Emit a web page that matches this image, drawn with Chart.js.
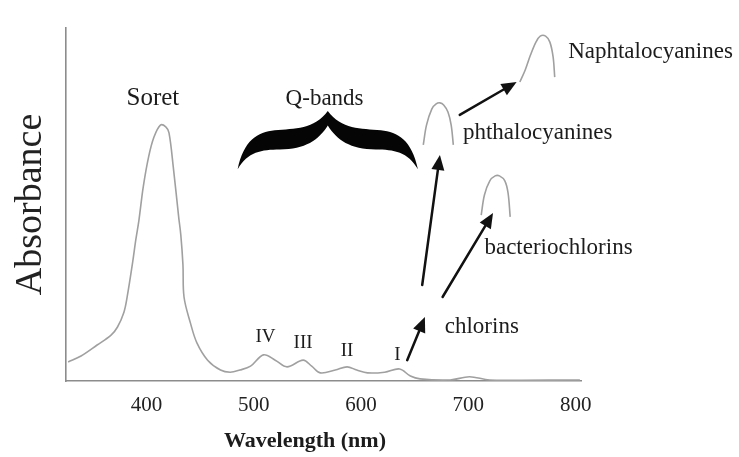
<!DOCTYPE html>
<html><head><meta charset="utf-8">
<script src="https://cdn.jsdelivr.net/npm/chart.js@4.4.1/dist/chart.umd.min.js"></script>
<style>html,body{margin:0;padding:0;background:#fff;} #wrap{width:739px;height:457px;}</style>
</head><body><div id="wrap"><canvas id="c" width="739" height="457"></canvas></div>
<script>
// ---- data (wavelength in nm, absorbance in arbitrary units) ----
const xTickValues = [400, 500, 600, 700, 800];

const spectrumWavelength = [327, 339, 354, 367, 373, 379, 382, 387, 390, 393, 397, 402, 407, 413, 418, 421, 425, 430, 432, 434, 435, 441, 447, 457, 469, 478,
  487, 497, 509, 520, 531, 546, 554, 562, 576, 587, 596, 606, 622, 636, 646, 655, 683, 701, 720, 804];
const spectrumAbsorbance = [0.054, 0.071, 0.102, 0.130, 0.153, 0.195, 0.238, 0.334, 0.399, 0.456, 0.550, 0.635, 0.691, 0.725, 0.720, 0.703, 0.606, 0.465, 0.414, 0.329, 0.238, 0.164, 0.108, 0.059, 0.031, 0.025,
  0.031, 0.042, 0.074, 0.059, 0.040, 0.059, 0.042, 0.023, 0.031, 0.040, 0.031, 0.023, 0.025, 0.034, 0.014, 0.006, 0.003, 0.012, 0.003, 0.003];

const phthaloWavelength = [658, 661, 666, 670, 673.5, 677, 681, 684, 686];
const phthaloAbsorbance = [0.669, 0.725, 0.771, 0.785, 0.788, 0.782, 0.762, 0.725, 0.669];

const bacterioWavelength = [712, 715, 720, 725, 729, 734, 737, 739];
const bacterioAbsorbance = [0.470, 0.527, 0.567, 0.581, 0.581, 0.567, 0.533, 0.465];

const naphthaloWavelength = [748, 753, 758, 763, 767, 772, 776, 779, 780.5];
const naphthaloAbsorbance = [0.847, 0.881, 0.924, 0.960, 0.977, 0.977, 0.960, 0.918, 0.861];

const labelTexts = ['Soret', 'Q-bands', 'IV', 'III', 'II', 'I', 'chlorins', 'phthalocyanines', 'bacteriochlorins', 'Naphtalocyanines'];
const labelWavelength = [406, 566, 511, 546, 587, 634, 678, 695, 715, 793];
const labelAbsorbance = [0.800, 0.800, 0.125, 0.108, 0.085, 0.074, 0.153, 0.703, 0.377, 0.932];

const arrowFromWavelength = [643, 657, 676, 692];
const arrowFromAbsorbance = [0.059, 0.272, 0.238, 0.754];
const arrowToWavelength = [659.5, 673.5, 723, 745];
const arrowToAbsorbance = [0.181, 0.640, 0.476, 0.847];

const braceWavelength = [485, 569, 653];   // left end, cusp, right end
const braceAbsorbance = [0.600, 0.765];    // end level, cusp level

const SERIF = '"Liberation Serif", "DejaVu Serif", serif';
const toPts = (xs, ys) => xs.map((v, i) => ({ x: v, y: ys[i] }));

const annot = {
  id: 'annot',
  afterDraw(chart) {
    const { ctx, scales: { x, y } } = chart;
    const px = v => x.getPixelForValue(v), py = v => y.getPixelForValue(v);
    ctx.save();
    // curly brace
    const L = px(braceWavelength[0]), C = px(braceWavelength[1]), R = px(braceWavelength[2]);
    const yE = py(braceAbsorbance[0]), yT = py(braceAbsorbance[1]), h = yE - yT;
    const P = (u, v) => [L + u * (C - L), yT + v * h];
    const Q = (u, v) => [R - u * (R - C), yT + v * h];
    const bz = (a, b, c) => ctx.bezierCurveTo(a[0], a[1], b[0], b[1], c[0], c[1]);
    ctx.fillStyle = '#050505';
    ctx.beginPath();
    let s = P(0, 1); ctx.moveTo(s[0], s[1]);
    bz(P(0.067, 0.5), P(0.222, 0.36), P(0.411, 0.33));
    bz(P(0.633, 0.30), P(0.85, 0.32), P(1, 0));
    bz(Q(0.85, 0.32), Q(0.633, 0.30), Q(0.411, 0.33));
    bz(Q(0.222, 0.36), Q(0.067, 0.5), Q(0, 1));
    bz(Q(0.111, 0.70), Q(0.267, 0.66), Q(0.467, 0.66));
    bz(Q(0.75, 0.66), Q(0.9, 0.5), Q(1, 0.25));
    bz(P(0.9, 0.5), P(0.75, 0.66), P(0.467, 0.66));
    bz(P(0.267, 0.66), P(0.111, 0.70), P(0, 1));
    ctx.closePath();
    ctx.fill();
    // arrows
    ctx.strokeStyle = '#111'; ctx.fillStyle = '#111'; ctx.lineWidth = 2.5; ctx.lineCap = 'round';
    arrowFromWavelength.forEach((_, i) => {
      const x0 = px(arrowFromWavelength[i]), y0 = py(arrowFromAbsorbance[i]);
      const x1 = px(arrowToWavelength[i]), y1 = py(arrowToAbsorbance[i]);
      const a = Math.atan2(y1 - y0, x1 - x0), hl = 15, hw = 6.5;
      const bx = x1 - hl * Math.cos(a), by = y1 - hl * Math.sin(a);
      ctx.beginPath(); ctx.moveTo(x0, y0); ctx.lineTo(bx, by); ctx.stroke();
      ctx.beginPath(); ctx.moveTo(x1, y1);
      ctx.lineTo(bx + hw * Math.sin(a), by - hw * Math.cos(a));
      ctx.lineTo(bx - hw * Math.sin(a), by + hw * Math.cos(a));
      ctx.closePath(); ctx.fill();
    });
    // labels
    ctx.fillStyle = '#1c1c1c'; ctx.textBaseline = 'middle';
    labelTexts.forEach((t, i) => {
      let size = 23, align = 'left';
      if (i === 0) { size = 25; align = 'center'; }
      else if (i === 1) { align = 'center'; }
      else if (i <= 5) { size = 19; align = 'center'; }
      ctx.font = size + 'px ' + SERIF;
      ctx.textAlign = align;
      ctx.fillText(t, px(labelWavelength[i]), py(labelAbsorbance[i]));
    });
    // x axis title
    ctx.font = 'bold 22px ' + SERIF; ctx.textAlign = 'center';
    ctx.fillText('Wavelength (nm)', 305, 441);
    ctx.restore();
  }
};

const lineStyle = { borderColor: '#a0a0a0', borderWidth: 1.6, pointRadius: 0, tension: 0.35, fill: false };

new Chart(document.getElementById('c'), {
  type: 'line',
  data: {
    datasets: [
      { label: 'Porphyrin', data: toPts(spectrumWavelength, spectrumAbsorbance), ...lineStyle },
      { label: 'Phthalocyanines', data: toPts(phthaloWavelength, phthaloAbsorbance), ...lineStyle },
      { label: 'Bacteriochlorins', data: toPts(bacterioWavelength, bacterioAbsorbance), ...lineStyle },
      { label: 'Naphtalocyanines', data: toPts(naphthaloWavelength, naphthaloAbsorbance), ...lineStyle }
    ]
  },
  options: {
    responsive: false, animation: false, devicePixelRatio: 1,
    layout: { padding: { top: 28, right: 158, left: 0, bottom: 0 } },
    plugins: { legend: { display: false }, tooltip: { enabled: false } },
    scales: {
      x: {
        type: 'linear', min: 325, max: 805,
        grid: { display: false, drawTicks: false },
        border: { display: true, color: '#8c8c8c', width: 1.6 },
        ticks: { padding: 12, color: '#222', font: { family: SERIF, size: 21 }, autoSkip: false, maxRotation: 0 },
        afterBuildTicks: s => { s.ticks = xTickValues.map(v => ({ value: v })); },
        afterFit: s => { s.height = 76; }
      },
      y: {
        min: 0, max: 1,
        grid: { display: false, drawTicks: false },
        border: { display: true, color: '#8c8c8c', width: 1.6 },
        ticks: { display: false },
        title: { display: true, text: 'Absorbance', color: '#222', font: { family: SERIF, size: 38 }, padding: { top: 8, bottom: 0 } },
        afterFit: s => { s.width = 66; }
      }
    }
  },
  plugins: [annot]
});
</script>
</body></html>
